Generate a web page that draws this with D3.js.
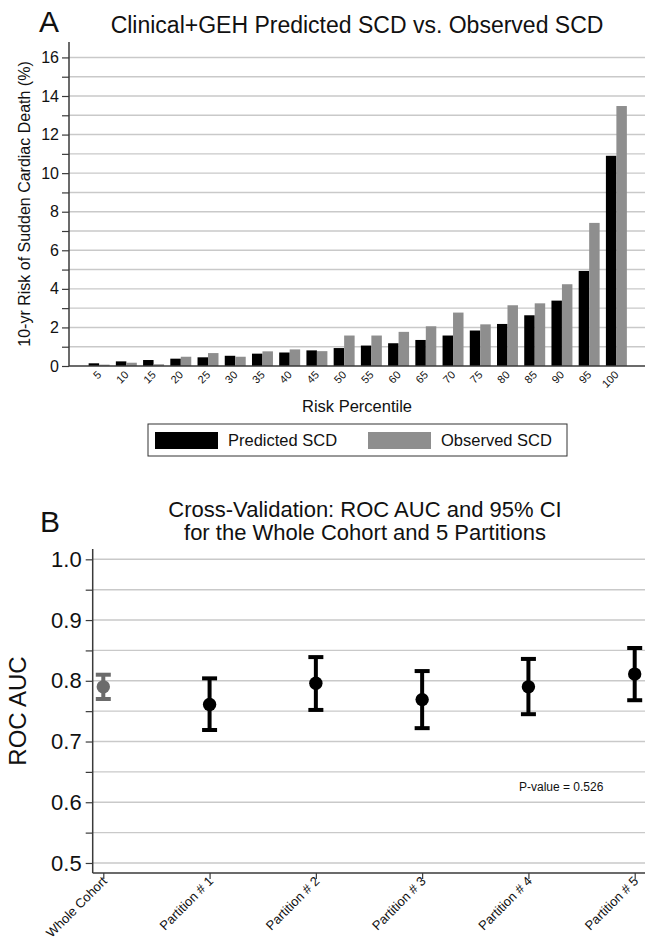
<!DOCTYPE html>
<html>
<head>
<meta charset="utf-8">
<script src="https://cdn.jsdelivr.net/npm/d3@7"></script>
<style>
  html, body { margin: 0; padding: 0; background: #fff; }
  svg { display: block; font-family: "Liberation Sans", Arial, Helvetica, sans-serif; }
</style>
</head>
<body>
<svg id="chart" width="654" height="951"></svg>
<script>
// ---------- Panel A data ----------
const percentiles = [5,10,15,20,25,30,35,40,45,50,55,60,65,70,75,80,85,90,95,100];
const predictedSCD = [0.14,0.24,0.31,0.38,0.45,0.53,0.64,0.70,0.81,0.93,1.06,1.18,1.35,1.58,1.84,2.18,2.63,3.39,4.93,10.9];
const observedSCD  = [0.07,0.17,0.09,0.48,0.67,0.48,0.76,0.86,0.77,1.58,1.58,1.77,2.06,2.77,2.16,3.15,3.25,4.24,7.42,13.48];
const seriesNames = ["Predicted SCD", "Observed SCD"];
const yTicksA = [0,2,4,6,8,10,12,14,16];
const yMinorA = [1,3,5,7,9,11,13,15];

// ---------- Panel B data ----------
const groups = ["Whole Cohort","Partition # 1","Partition # 2","Partition # 3","Partition # 4","Partition # 5"];
const aucValues = [0.790,0.761,0.796,0.769,0.790,0.811];
const ciLower   = [0.770,0.719,0.752,0.722,0.745,0.768];
const ciUpper   = [0.810,0.804,0.839,0.816,0.836,0.854];
const yTicksB = [0.5,0.6,0.7,0.8,0.9,1.0];
const yMinorB = [0.55,0.65,0.75,0.85,0.95];
const pValueText = "P-value = 0.526";

const svg = d3.select("#chart");
svg.append("rect").attr("width",654).attr("height",951).attr("fill","#fff");

const gridColor = "#c9c9c9";
const axisColor = "#3a3a3a";
const predColor = "#000000";
const obsColor = "#8e8e8e";

// ================= Panel A =================
const A = { left: 69, right: 645, top: 42, bottom: 366 };
const xA = d3.scaleBand().domain(percentiles).range([85.5, 630]).paddingInner(0.23).paddingOuter(0.115);
const xSub = d3.scaleBand().domain(seriesNames).range([0, xA.bandwidth()]);
const yA = d3.scaleLinear().domain([0, 16.8]).range([A.bottom, A.top]);

const gA = svg.append("g");
// gridlines
gA.append("g").selectAll("line").data(yTicksA.concat(yMinorA).filter(v => v > 0)).join("line")
  .attr("x1", A.left).attr("x2", A.right)
  .attr("y1", d => yA(d)).attr("y2", d => yA(d))
  .attr("stroke", gridColor).attr("stroke-width", 1.4);

// bars
const barData = [];
percentiles.forEach((p, i) => {
  barData.push({ p, s: seriesNames[0], v: predictedSCD[i] });
  barData.push({ p, s: seriesNames[1], v: observedSCD[i] });
});
gA.append("g").selectAll("rect").data(barData).join("rect")
  .attr("x", d => xA(d.p) + xSub(d.s))
  .attr("width", xSub.bandwidth())
  .attr("y", d => yA(d.v))
  .attr("height", d => yA(0) - yA(d.v))
  .attr("fill", d => d.s === seriesNames[0] ? predColor : obsColor);

// y axis
const yAxisA = d3.axisLeft(yA).tickValues(yTicksA).tickSize(7).tickPadding(3).tickFormat(d3.format("d"));
const gyA = gA.append("g").attr("transform", `translate(${A.left},0)`).call(yAxisA);
gyA.select(".domain").attr("stroke", axisColor).attr("stroke-width", 1.5).attr("d", `M-7,${A.top}H0V${A.bottom}`);
gyA.select(".domain").attr("d", `M0,${A.top}V${A.bottom}`);
gyA.selectAll(".tick line").attr("stroke", axisColor).attr("stroke-width", 1.2);
gyA.selectAll(".tick text").attr("font-size", 16).attr("fill", "#111").attr("font-family", "Liberation Sans, Arial, sans-serif");
gA.append("g").attr("transform", `translate(${A.left},0)`)
  .call(d3.axisLeft(yA).tickValues(yMinorA).tickSize(7).tickFormat(""))
  .call(g => g.select(".domain").remove())
  .call(g => g.selectAll(".tick line").attr("stroke", axisColor).attr("stroke-width", 1.2));

// x axis
const gxA = gA.append("g").attr("transform", `translate(0,${A.bottom})`)
  .call(d3.axisBottom(xA).tickSize(0).tickPadding(0));
gxA.select(".domain").attr("stroke", axisColor).attr("stroke-width", 1.5).attr("d", `M${A.left},0H${A.right}`);
gxA.selectAll(".tick text")
  .attr("font-size", 11).attr("fill", "#111").attr("font-family", "Liberation Sans, Arial, sans-serif")
  .attr("text-anchor", "end").attr("dy", 0).attr("y", 0)
  .attr("transform", "translate(3,9.5) rotate(-45)");

// titles
gA.append("text").attr("x", 39).attr("y", 32).attr("font-size", 30).attr("fill", "#111").text("A");
gA.append("text").attr("x", (A.left + A.right) / 2).attr("y", 33).attr("text-anchor", "middle")
  .attr("font-size", 23).attr("fill", "#111").text("Clinical+GEH Predicted SCD vs. Observed SCD");
gA.append("text").attr("transform", `translate(30,${(A.top + A.bottom) / 2}) rotate(-90)`)
  .attr("text-anchor", "middle").attr("font-size", 16).attr("fill", "#111")
  .text("10-yr Risk of Sudden Cardiac Death (%)");
gA.append("text").attr("x", (A.left + A.right) / 2).attr("y", 412).attr("text-anchor", "middle")
  .attr("font-size", 16.5).attr("fill", "#111").text("Risk Percentile");

// legend
const leg = gA.append("g");
leg.append("rect").attr("x", 148).attr("y", 424).attr("width", 419).attr("height", 32)
  .attr("fill", "#fff").attr("stroke", "#333").attr("stroke-width", 1);
const legItems = [
  { name: seriesNames[0], color: predColor, x: 155 },
  { name: seriesNames[1], color: obsColor, x: 368 }
];
legItems.forEach(it => {
  leg.append("rect").attr("x", it.x).attr("y", 432).attr("width", 63).attr("height", 17).attr("fill", it.color);
  leg.append("text").attr("x", it.x + 73).attr("y", 446).attr("font-size", 16.5).attr("fill", "#111").text(it.name);
});

// ================= Panel B =================
const B = { left: 92.7, right: 645, top: 549, bottom: 873 };
const xB = d3.scalePoint().domain(groups).range([103.3, 634.7]);
const yB = d3.scaleLinear().domain([0.4835, 1.017]).range([B.bottom, B.top]);
const gB = svg.append("g");

gB.append("g").selectAll("line").data(yTicksB.concat(yMinorB)).join("line")
  .attr("x1", B.left).attr("x2", B.right)
  .attr("y1", d => yB(d)).attr("y2", d => yB(d))
  .attr("stroke", gridColor).attr("stroke-width", 1.4);

// y axis
const gyB = gB.append("g").attr("transform", `translate(${B.left},0)`)
  .call(d3.axisLeft(yB).tickValues(yTicksB).tickSize(7).tickPadding(4).tickFormat(d3.format(".1f")));
gyB.select(".domain").attr("stroke", axisColor).attr("stroke-width", 1.5).attr("d", `M0,${B.top}V${B.bottom}`);
gyB.selectAll(".tick line").attr("stroke", axisColor).attr("stroke-width", 1.2);
gyB.selectAll(".tick text").attr("font-size", 22).attr("fill", "#111").attr("font-family", "Liberation Sans, Arial, sans-serif");
gB.append("g").attr("transform", `translate(${B.left},0)`)
  .call(d3.axisLeft(yB).tickValues(yMinorB).tickSize(7).tickFormat(""))
  .call(g => g.select(".domain").remove())
  .call(g => g.selectAll(".tick line").attr("stroke", axisColor).attr("stroke-width", 1.2));

// x axis
const gxB = gB.append("g").attr("transform", `translate(0,${B.bottom})`)
  .call(d3.axisBottom(xB).tickSize(6).tickPadding(0));
gxB.select(".domain").attr("stroke", axisColor).attr("stroke-width", 1.5).attr("d", `M${B.left},0H${B.right}`);
gxB.selectAll(".tick line").attr("stroke", axisColor).attr("stroke-width", 1.2);
gxB.selectAll(".tick text")
  .attr("font-size", 13).attr("fill", "#111").attr("font-family", "Liberation Sans, Arial, sans-serif")
  .attr("text-anchor", "end").attr("dy", 0).attr("y", 0)
  .attr("transform", "translate(4,9) rotate(-45)");

// error bars
const ebData = groups.map((g, i) => ({ g, v: aucValues[i], lo: ciLower[i], hi: ciUpper[i], color: i === 0 ? "#6b6b6b" : "#000" }));
const eb = gB.append("g").selectAll("g").data(ebData).join("g");
eb.append("line").attr("x1", d => xB(d.g)).attr("x2", d => xB(d.g))
  .attr("y1", d => yB(d.lo)).attr("y2", d => yB(d.hi))
  .attr("stroke", d => d.color).attr("stroke-width", 4);
eb.append("line").attr("x1", d => xB(d.g) - 7.5).attr("x2", d => xB(d.g) + 7.5)
  .attr("y1", d => yB(d.hi)).attr("y2", d => yB(d.hi))
  .attr("stroke", d => d.color).attr("stroke-width", 4);
eb.append("line").attr("x1", d => xB(d.g) - 7.5).attr("x2", d => xB(d.g) + 7.5)
  .attr("y1", d => yB(d.lo)).attr("y2", d => yB(d.lo))
  .attr("stroke", d => d.color).attr("stroke-width", 4);
eb.append("circle").attr("cx", d => xB(d.g)).attr("cy", d => yB(d.v)).attr("r", 6.7)
  .attr("fill", d => d.color);

// texts
gB.append("text").attr("x", 40).attr("y", 532).attr("font-size", 30).attr("fill", "#111").text("B");
const tB = gB.append("text").attr("text-anchor", "middle").attr("font-size", 22).attr("fill", "#111");
tB.append("tspan").attr("x", 365).attr("y", 517).text("Cross-Validation: ROC AUC and 95% CI");
tB.append("tspan").attr("x", 365).attr("y", 540).text("for the Whole Cohort and 5 Partitions");
gB.append("text").attr("transform", `translate(26,${(B.top + B.bottom) / 2}) rotate(-90)`)
  .attr("text-anchor", "middle").attr("font-size", 24).attr("fill", "#111").text("ROC AUC");
gB.append("text").attr("x", 519).attr("y", 791).attr("font-size", 12).attr("fill", "#111").text(pValueText);
</script>
</body>
</html>
